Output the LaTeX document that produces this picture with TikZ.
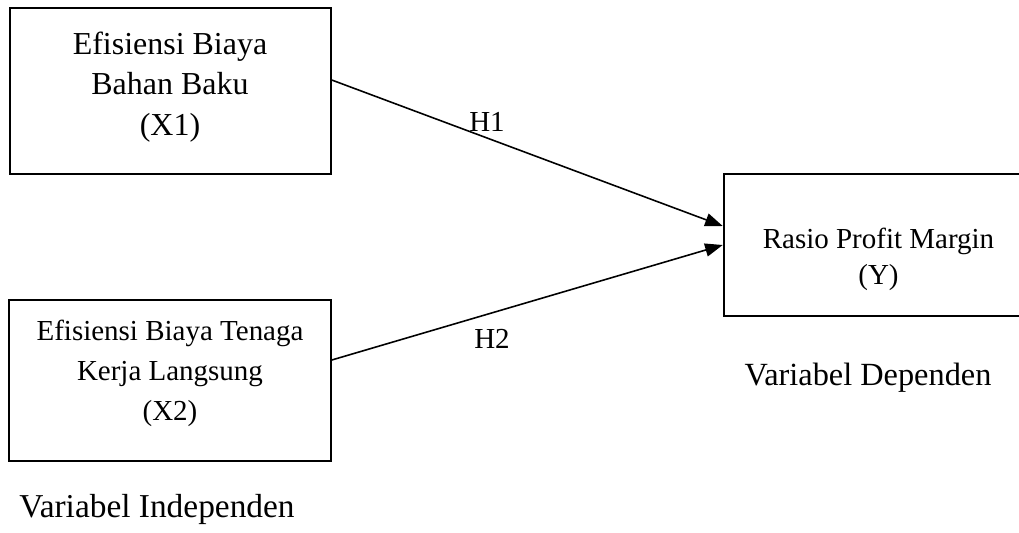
\documentclass[tikz,border=0pt]{standalone}
\usepackage{fontspec}
\setmainfont{Liberation Serif}
\usetikzlibrary{arrows.meta,positioning}

\begin{document}
\begin{tikzpicture}[x=0.02cm,y=-0.02cm,
      varbox/.style={rectangle,draw,line width=0.9pt,inner sep=0pt},
      vartext/.style={align=center,inner sep=0pt},
      hypo/.style={-{Triangle[length=10pt,width=7.5pt]},line width=0.9pt}]

      \useasboundingbox (0,0) rectangle (1019,532);

      % Variabel independen
      \node[varbox,minimum width=6.42cm,minimum height=3.32cm] (x1) at (170.5,91) {};
      \node[vartext,font=\fontsize{18.2}{23.2}\selectfont] (x1text) at (170,87)
        {Efisiensi Biaya\\Bahan Baku\\(X1)};

      \node[varbox,minimum width=6.44cm,minimum height=3.22cm] (x2) at (170,380.5) {};
      \node[vartext,font=\fontsize{16.5}{22.7}\selectfont] (x2text) at (170,373)
        {Efisiensi Biaya Tenaga\\Kerja Langsung\\(X2)};

      % Variabel dependen
      \node[varbox,line width=1.5pt,minimum width=6.12cm,minimum height=2.84cm] (y) at (877,245) {};
      \node[vartext,font=\fontsize{16.5}{20.4}\selectfont] (ytext) at (878.5,259.5)
        {Rasio Profit Margin\\(Y)};

      % Hipotesis
      \draw[hypo] ([yshift=0.22cm]x1.east) -- ([yshift=0.38cm]y.west);
      \draw[hypo] ([yshift=0.41cm]x2.east) -- (y.west);
      \node[font=\fontsize{16.5}{19}\selectfont,inner sep=0pt] (h1) at (487,122) {H1};
      \node[font=\fontsize{16.5}{19}\selectfont,inner sep=0pt] (h2) at (492,339) {H2};

      % Keterangan
      \node[font=\fontsize{18.4}{22}\selectfont,anchor=base,inner sep=0pt] (dep) at (868,385)
        {Variabel Dependen};
      \node[font=\fontsize{19}{22}\selectfont,anchor=base,inner sep=0pt] (indep) at (157,517)
        {Variabel Independen};
    \end{tikzpicture}
\end{document}
